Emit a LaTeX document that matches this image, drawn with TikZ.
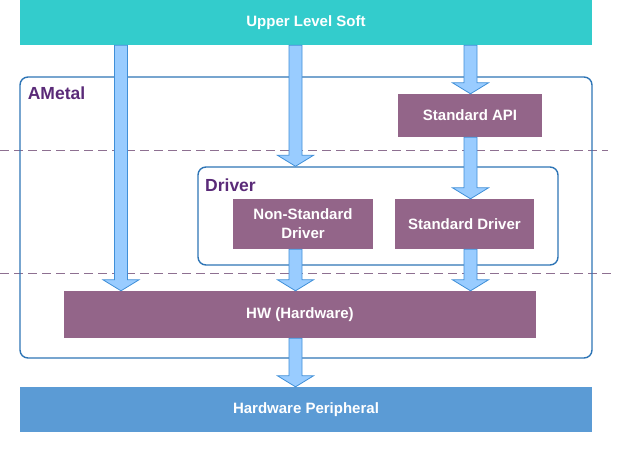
\documentclass[tikz,border=0pt]{standalone}
\usepackage{fontspec}
\setmainfont{Liberation Sans}
\usetikzlibrary{calc}
\definecolor{softteal}{HTML}{33CCCC}
\definecolor{layerpurple}{HTML}{936589}
\definecolor{periblue}{HTML}{5B9BD5}
\definecolor{frameblue}{HTML}{2E75B6}
\definecolor{labelpurple}{HTML}{5A2A78}
\definecolor{arrowfill}{HTML}{99CCFF}
\definecolor{arrowline}{HTML}{3F8FD8}
\definecolor{dashgray}{HTML}{8E7091}

\begin{document}
\begin{tikzpicture}[x=1pt, y=-1pt,
    layer/.style={fill=#1, text=white, inner sep=0pt, align=center,
      font=\bfseries\fontsize{15}{19}\selectfont},
    frame/.style={draw=frameblue, line width=1.4pt, rounded corners=8pt, inner sep=0pt},
    grouplabel/.style={text=labelpurple, inner sep=0pt,
      font=\bfseries\fontsize{17.5}{20}\selectfont},
    levelline/.style={draw=dashgray, line width=0.8pt, dash pattern=on 9pt off 5pt},
    barrow/.style={draw=arrowline, fill=arrowfill, line width=0.8pt, to path={
      let \p1=(\tikztostart), \p2=(\tikztotarget) in
      (\x1-6.5pt,\y1) -- (\x1-6.5pt,\y2+11pt) -- (\x1-18pt,\y2+11pt) -- (\x1,\y2)
      -- (\x1+18pt,\y2+11pt) -- (\x1+6.5pt,\y2+11pt) -- (\x1+6.5pt,\y1) -- cycle}}]
  \useasboundingbox (0,0) rectangle (636,460);

  \coordinate (colA) at (121,0);
  \coordinate (colB) at (295.5,0);
  \coordinate (colC) at (470.5,0);

  \coordinate (cut1w) at (0,150);
  \coordinate (cut1e) at (608,150);
  \coordinate (cut2w) at (0,273);
  \coordinate (cut2e) at (612,273);
  \draw[levelline] (cut1w) -- (cut1e);
  \draw[levelline] (cut2w) -- (cut2e);

  \node[frame, minimum width=572pt, minimum height=281pt] (ametal) at (306,217.5) {};
  \node[grouplabel] (ametallbl) at (56.5,93) {AMetal};
  \node[frame, minimum width=360pt, minimum height=98pt] (driver) at (378,216) {};
  \node[grouplabel] (driverlbl) at (230.5,185) {Driver};

  \node[layer=softteal, minimum width=572pt, minimum height=45pt] (upper) at (306,22.5) {Upper Level Soft};
  \node[layer=layerpurple, minimum width=144pt, minimum height=43pt] (stdapi) at (470,115.5) {Standard API};
  \node[layer=layerpurple, minimum width=140pt, minimum height=50pt] (nonstd) at (303,224) {Non-Standard\\Driver};
  \node[layer=layerpurple, minimum width=139pt, minimum height=50pt] (stddrv) at (464.5,224) {Standard Driver};
  \node[layer=layerpurple, minimum width=472pt, minimum height=47pt] (hw) at (300,314.5) {HW (Hardware)};
  \node[layer=periblue, minimum width=572pt, minimum height=45pt] (periph) at (306,409.5) {Hardware Peripheral};

  \draw[barrow] (upper.south -| colA) to (hw.north -| colA);
  \draw[barrow] (upper.south -| colB) to (driver.north -| colB);
  \draw[barrow] (upper.south -| colC) to (stdapi.north -| colC);
  \draw[barrow] (stdapi.south -| colC) to (stddrv.north -| colC);
  \draw[barrow] (nonstd.south -| colB) to (hw.north -| colB);
  \draw[barrow] (stddrv.south -| colC) to (hw.north -| colC);
  \draw[barrow] (hw.south -| colB) to (periph.north -| colB);
\end{tikzpicture}
\end{document}
